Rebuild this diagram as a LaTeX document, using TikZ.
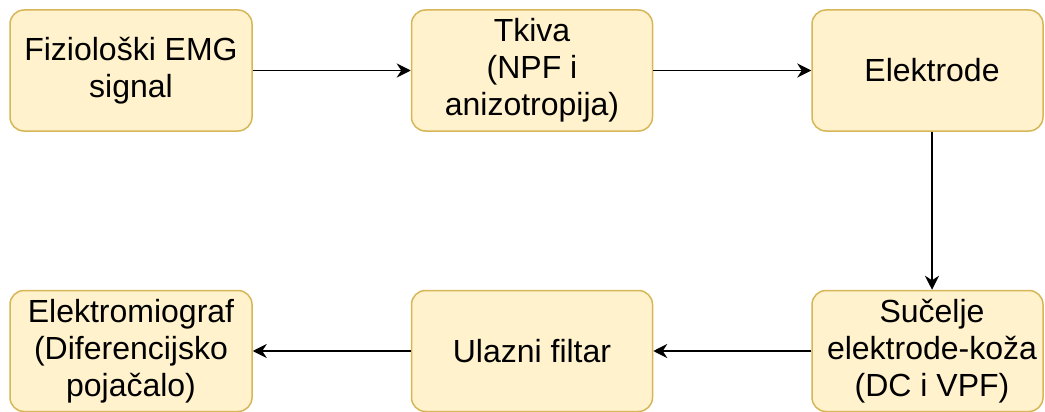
\documentclass[tikz,border=0pt]{standalone}
\usepackage{fontspec}
\setmainfont{Liberation Sans}
\usetikzlibrary{arrows.meta}
\definecolor{boxfill}{HTML}{FFF2CC}
\definecolor{boxline}{HTML}{D6B656}
\begin{document}
\begin{tikzpicture}[x=1pt,y=-1pt,
  block/.style={draw=boxline, fill=boxfill, line width=1.5pt, rounded corners=14pt,
    minimum height=121pt, inner sep=0pt},
  txt/.style={align=center, font=\fontsize{32}{37}\selectfont, text=black, inner sep=0pt},
  flow/.style={draw=black, line width=1.7pt, -{Stealth[length=14pt,width=14pt,inset=4.5pt]}}]
\useasboundingbox (0,0) rectangle (1045,412);

% top row
\node[block, minimum width=242pt, txt] (sig) at (131,70.5) {Fiziološki EMG\\signal};
\node[block, minimum width=241pt, txt] (tis) at (532,70.5) {Tkiva\\(NPF i\\anizotropija)};
\node[block, minimum width=231pt] (ele) at (927.5,70.5) {};
\node[txt] (eletxt) at (932,70.5) {Elektrode};

% bottom row
\node[block, minimum width=242pt, txt] (emg) at (131,351) {Elektromiograf\\(Diferencijsko\\pojačalo)};
\node[block, minimum width=241pt, txt] (fil) at (532,351) {Ulazni filtar};
\node[block, minimum width=231pt] (ski) at (927.5,351) {};
\node[txt] (skitxt) at (932,351) {Sučelje\\elektrode-koža\\(DC i VPF)};

% signal path
\draw[flow] (sig.east) -- (tis.west);
\draw[flow] (tis.east) -- (ele.west);
\draw[flow] (ele.south -| eletxt) -- (ski.north -| skitxt);
\draw[flow] (ski.west) -- (fil.east);
\draw[flow] (fil.west) -- (emg.east);
\end{tikzpicture}
\end{document}
